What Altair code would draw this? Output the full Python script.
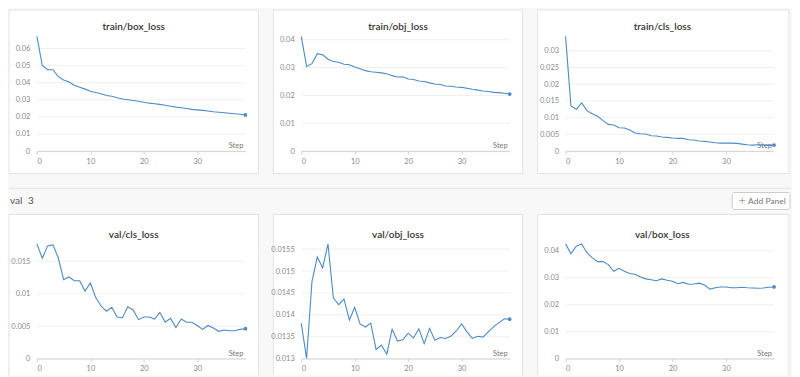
import altair as alt
import pandas as pd

FONT = "Lato"
LINE = "#4b8bca"
BG = "#f8f8f8"

steps = list(range(40))

train_box_loss = [0.067, 0.050, 0.0475, 0.0475, 0.0435, 0.0415, 0.0403, 0.0385, 0.0373, 0.0362,
                  0.0350, 0.0342, 0.0335, 0.0325, 0.0320, 0.0312, 0.0304, 0.0300, 0.0296, 0.0291,
                  0.0285, 0.0280, 0.0277, 0.0273, 0.0268, 0.0262, 0.0257, 0.0253, 0.0249, 0.0244,
                  0.0241, 0.0238, 0.0234, 0.0230, 0.0227, 0.0224, 0.0221, 0.0218, 0.0215, 0.0211]
train_obj_loss = [0.0412, 0.0304, 0.0314, 0.0350, 0.0346, 0.0330, 0.0322, 0.0319, 0.0312, 0.0310,
                  0.0302, 0.0296, 0.0289, 0.0285, 0.0283, 0.0281, 0.0278, 0.0271, 0.0266, 0.0267,
                  0.0259, 0.0257, 0.0252, 0.0250, 0.0245, 0.0241, 0.0239, 0.0234, 0.0233, 0.0230,
                  0.0229, 0.0226, 0.0222, 0.0219, 0.0216, 0.0214, 0.0211, 0.0210, 0.0208, 0.0205]
train_cls_loss = [0.0343, 0.0135, 0.0125, 0.0144, 0.0121, 0.0112, 0.0104, 0.0091, 0.0080, 0.0078,
                  0.0070, 0.0069, 0.0063, 0.0054, 0.0052, 0.0051, 0.0046, 0.0045, 0.0042, 0.0041,
                  0.0039, 0.0038, 0.0038, 0.0034, 0.0033, 0.0030, 0.0029, 0.0027, 0.0025, 0.0024,
                  0.0024, 0.0024, 0.0023, 0.0021, 0.0019, 0.0018, 0.0019, 0.0018, 0.0017, 0.0018]
val_cls_loss = [0.01768, 0.01546, 0.01737, 0.01753, 0.0155, 0.01216, 0.01258, 0.0120, 0.0120, 0.0104,
                0.01165, 0.0094, 0.0081, 0.0073, 0.0079, 0.0064, 0.0063, 0.0080, 0.0075, 0.0060,
                0.0064, 0.0064, 0.0061, 0.0071, 0.0056, 0.0062, 0.0048, 0.0061, 0.0056, 0.0056,
                0.0051, 0.0045, 0.0051, 0.0047, 0.0042, 0.0044, 0.0043, 0.0043, 0.0045, 0.0046]
val_obj_loss = [0.01381, 0.0130, 0.01476, 0.01532, 0.01507, 0.01562, 0.01439, 0.01423, 0.01436, 0.01388,
                0.01417, 0.01379, 0.01372, 0.01381, 0.01321, 0.01331, 0.0131, 0.01367, 0.0134, 0.01343,
                0.01358, 0.01347, 0.01368, 0.01334, 0.01369, 0.01342, 0.01348, 0.01346, 0.01351, 0.01363,
                0.01379, 0.01361, 0.01346, 0.01351, 0.01349, 0.01361, 0.01373, 0.01382, 0.01391, 0.0139]
val_box_loss = [0.0426, 0.0389, 0.0417, 0.0426, 0.0393, 0.0374, 0.0360, 0.0360, 0.0349, 0.0324,
                0.0335, 0.0324, 0.0316, 0.0313, 0.0303, 0.0296, 0.0293, 0.0289, 0.0296, 0.0291,
                0.0287, 0.0278, 0.0283, 0.0276, 0.0277, 0.0280, 0.0273, 0.0258, 0.0263, 0.0266,
                0.0266, 0.0263, 0.0263, 0.0265, 0.0263, 0.0262, 0.0261, 0.0262, 0.0265, 0.0266]

titles = ["train/box_loss", "train/obj_loss", "train/cls_loss",
          "val/cls_loss", "val/obj_loss", "val/box_loss"]
series = [train_box_loss, train_obj_loss, train_cls_loss,
          val_cls_loss, val_obj_loss, val_box_loss]
y_ticks = [
    [0, 0.01, 0.02, 0.03, 0.04, 0.05, 0.06],
    [0, 0.01, 0.02, 0.03, 0.04],
    [0, 0.005, 0.01, 0.015, 0.02, 0.025, 0.03],
    [0, 0.005, 0.01, 0.015],
    [0.013, 0.0135, 0.014, 0.0145, 0.015, 0.0155],
    [0, 0.01, 0.02, 0.03, 0.04],
]
zero_based = [True, True, True, True, False, True]
x_ticks = [0, 10, 20, 30]
x_title = "Step"
section_label = "val"
section_count = "3"
button_plus = "+"
button_label = "Add Panel"

W, H = 209, 115
CARD_L, CARD_R = -28, 222
one = pd.DataFrame({"k": [0]})
GRAY_TXT = "#8a8a8a"
BORDER = "#e2e2e2"


def deco_rect(x, x2, y, y2, **kw):
    return alt.Chart(one).mark_rect(**kw).encode(
        x=alt.value(x), x2=alt.value(x2), y=alt.value(y), y2=alt.value(y2))


def deco_rule(x, x2, y, y2, color):
    return alt.Chart(one).mark_rule(color=color, strokeWidth=1).encode(
        x=alt.value(x), x2=alt.value(x2), y=alt.value(y), y2=alt.value(y2))


def deco_text(text, x, y, **kw):
    return alt.Chart(one).mark_text(text=text, font=FONT, **kw).encode(
        x=alt.value(x), y=alt.value(y))


def panel(i):
    row = i // 3
    vals = series[i]
    df = pd.DataFrame({"step": steps, "value": vals})
    lo = 0 if zero_based[i] else min(vals)
    hi = max(vals)
    xs = alt.X("step:Q",
               scale=alt.Scale(domain=[0, 39], nice=False, zero=False),
               axis=alt.Axis(values=x_ticks, title=None, grid=False,
                             domainColor="#d4d4d4", tickColor="#d4d4d4", tickSize=3,
                             labelColor=GRAY_TXT, labelFontSize=7.5, labelFont=FONT,
                             labelPadding=3, zindex=1))
    ys = alt.Y("value:Q",
               scale=alt.Scale(domain=[lo, hi], nice=False, zero=False),
               axis=alt.Axis(values=y_ticks[i], title=None, domain=False, ticks=False,
                             grid=False, labelColor=GRAY_TXT,
                             labelFontSize=7.5, labelFont=FONT, labelPadding=7,
                             format="~g", zindex=1))
    layers = []
    right = CARD_R + (2 if i % 3 == 2 else 0)
    if row == 0:
        ct, cb = -26.5, 137.5
        layers.append(deco_rect(CARD_L, right, ct, cb, fill="white", stroke=BORDER,
                                strokeWidth=1))
        ty = -9.5
    else:
        ct, cb = -29.5, 132
        layers.append(deco_rect(CARD_L, right, ct, cb, fill="white"))
        layers.append(deco_rule(CARD_L, right, ct, ct, BORDER))
        layers.append(deco_rule(CARD_L, CARD_L, ct, cb, BORDER))
        layers.append(deco_rule(right, right, ct, cb, BORDER))
        ty = -8.7
    grid = alt.Chart(pd.DataFrame({"value": y_ticks[i]})).mark_rule(
        color="#efefef", strokeWidth=1).encode(x=alt.value(0), x2=alt.value(W), y=ys)
    layers.append(grid)
    layers.append(deco_text(titles[i], (CARD_L + CARD_R) / 2, ty, fontSize=10,
                            fontWeight=600, color="#333333", align="center",
                            baseline="middle"))
    layers.append(deco_text(x_title, W - 2, H - 3, fontSize=7.5, color="#777777",
                            align="right", baseline="alphabetic"))
    if i == 3:
        layers.append(deco_rule(CARD_L, 756, -55.7, -55.7, "#e4e4e4"))
        layers.append(deco_text(section_label, -27, -42.7, fontSize=10, color="#555555",
                                align="left", baseline="middle"))
        layers.append(deco_text(section_count, -9, -42.7, fontSize=10, color="#555555",
                                align="left", baseline="middle"))
    if i == 5:
        layers.append(deco_rect(167, 225, -51.5, -34.5, fill="white", stroke="#cccccc",
                                strokeWidth=1, cornerRadius=2))
        layers.append(deco_text(button_plus, 177, -42.5, fontSize=13, fontWeight=300,
                                color="#777777", align="center", baseline="middle"))
        layers.append(deco_text(button_label, 183, -42.5, fontSize=8.5, color="#777777",
                                align="left", baseline="middle"))
    line = alt.Chart(df).mark_line(color=LINE, strokeWidth=1.1).encode(x=xs, y=ys)
    dot = alt.Chart(df).transform_filter("datum.step == 39").mark_circle(
        color=LINE, size=14, opacity=1).encode(x=xs, y=ys)
    layers += [line, dot]
    return alt.layer(*layers).properties(width=W, height=H)


chart = alt.concat(
    *[panel(i) for i in range(6)],
    columns=3,
    spacing={"row": 93, "column": 56},
    bounds="flush",
    align="all",
).properties(background=BG, padding=0).configure_view(stroke="transparent")

chart.save("out.html", embed_options={"renderer": "svg", "actions": False})
